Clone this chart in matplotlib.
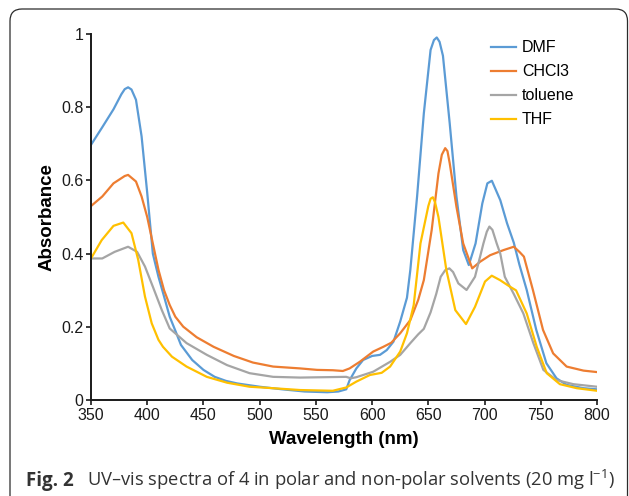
import numpy as np
import matplotlib
matplotlib.use("Agg")
import matplotlib.pyplot as plt
from matplotlib.patches import FancyBboxPatch

# spectra (wavelength in nm, absorbance)
dmf_wl = [350, 360, 370, 377, 380, 383, 386, 390, 395, 400, 405, 410, 415, 420, 425, 430, 440, 450, 460,
          470, 480, 500, 520, 540, 560, 570, 577, 580, 586, 592, 600, 607, 613, 619, 625, 631, 634, 640,
          646, 652, 655, 657.5, 660, 663, 669, 675, 681, 686, 692, 698, 702.5, 706.5, 714, 720, 726, 731,
          737.5, 746, 755, 764, 773, 788, 800]
dmf_abs = [0.697, 0.745, 0.794, 0.835, 0.849, 0.854, 0.848, 0.82, 0.72, 0.566, 0.40, 0.337, 0.283, 0.228,
           0.19, 0.151, 0.11, 0.083, 0.064, 0.053, 0.046, 0.037, 0.030, 0.024, 0.022, 0.024, 0.030, 0.055,
           0.087, 0.11, 0.121, 0.124, 0.137, 0.16, 0.215, 0.28, 0.356, 0.556, 0.783, 0.956, 0.983, 0.990,
           0.978, 0.94, 0.756, 0.556, 0.41, 0.369, 0.428, 0.537, 0.592, 0.599, 0.546, 0.483, 0.43, 0.37,
           0.301, 0.192, 0.101, 0.060, 0.042, 0.033, 0.030]

chcl3_wl = [350, 360, 370, 380, 383, 390, 395, 400, 405, 410, 415, 420, 425, 432, 444, 459, 477, 494, 512,
            536, 551, 565, 574, 580, 589, 601, 610, 617, 625, 634, 641, 646, 653, 659, 662, 665, 667, 669,
            675, 681, 689, 696, 705, 717, 726, 731, 735, 743, 752, 761, 773, 788, 800]
chcl3_abs = [0.53, 0.556, 0.592, 0.612, 0.615, 0.597, 0.556, 0.50, 0.428, 0.356, 0.30, 0.26, 0.228, 0.201,
             0.172, 0.146, 0.121, 0.103, 0.092, 0.087, 0.083, 0.082, 0.080, 0.087, 0.105, 0.133, 0.146,
             0.157, 0.183, 0.219, 0.274, 0.328, 0.465, 0.619, 0.67, 0.688, 0.68, 0.647, 0.528, 0.428, 0.36,
             0.378, 0.396, 0.41, 0.419, 0.405, 0.392, 0.301, 0.192, 0.128, 0.092, 0.081, 0.077]

tol_wl = [350, 360, 371, 383, 391, 398, 405, 413, 420, 435, 453, 471, 491, 512, 536, 577, 581, 586, 601,
          616, 625, 634, 641, 646, 652, 657, 661, 665, 668.7, 672, 676.7, 684, 691.5, 699, 702, 704.3,
          707, 710.8, 714, 718, 726, 734.5, 743.4, 752.3, 764, 779, 800]
tol_abs = [0.387, 0.387, 0.405, 0.419, 0.405, 0.365, 0.31, 0.246, 0.196, 0.156, 0.124, 0.096, 0.074,
           0.064, 0.062, 0.064, 0.060, 0.063, 0.078, 0.105, 0.124, 0.156, 0.18, 0.195, 0.24, 0.29, 0.337,
           0.355, 0.36, 0.35, 0.319, 0.301, 0.337, 0.428, 0.46, 0.474, 0.465, 0.428, 0.40, 0.337, 0.29,
           0.237, 0.156, 0.083, 0.055, 0.044, 0.037]

thf_wl = [350, 359.5, 370, 378.7, 386, 392, 398, 404, 410, 414, 422, 435, 453, 471, 491, 512, 536, 565,
          577, 586, 598, 608.5, 616, 625, 631, 637, 643, 650, 652, 654, 656, 659, 666, 674, 683.5, 691.5,
          700.4, 706.4, 713.7, 722.6, 728, 737.5, 746.4, 755.3, 767, 782, 800]
thf_abs = [0.387, 0.437, 0.476, 0.485, 0.456, 0.383, 0.283, 0.21, 0.165, 0.146, 0.119, 0.092, 0.064,
           0.048, 0.037, 0.033, 0.028, 0.026, 0.035, 0.051, 0.069, 0.075, 0.092, 0.133, 0.183, 0.26, 0.428,
           0.53, 0.55, 0.554, 0.54, 0.50, 0.356, 0.246, 0.208, 0.255, 0.324, 0.34, 0.328, 0.31, 0.30, 0.237,
           0.146, 0.074, 0.044, 0.033, 0.026]

labels = ["DMF", "CHCl3", "toluene", "THF"]
colors = ["#5B9BD5", "#ED7D31", "#A5A5A5", "#FFC000"]
x_ticks = [350, 400, 450, 500, 550, 600, 650, 700, 750, 800]
y_ticks = [0, 0.2, 0.4, 0.6, 0.8, 1]
y_ticklabels = ["0", "0.2", "0.4", "0.6", "0.8", "1"]

plt.rcParams['font.family'] = ['Liberation Sans', 'DejaVu Sans']
plt.rcParams['mathtext.default'] = 'regular'

W, H = 629, 496
fig = plt.figure(figsize=(W / 100, H / 100), dpi=100)

# rounded frame around the whole figure, in pixel units
bg = fig.add_axes([0, 0, 1, 1])
bg.set_xlim(0, W)
bg.set_ylim(H, 0)
bg.axis('off')
bg.add_patch(FancyBboxPatch((10, 9), 617.5, 520, boxstyle="round,pad=0,rounding_size=12",
                            facecolor='white', edgecolor='#2b2b2b', linewidth=0.9))

ax = fig.add_axes([91 / W, 1 - 400.3 / H, (597 - 91) / W, (400.3 - 33.8) / H])
ax.patch.set_alpha(0)

series = [(dmf_wl, dmf_abs), (chcl3_wl, chcl3_abs), (tol_wl, tol_abs), (thf_wl, thf_abs)]
for (wl, ab), lab, c in zip(series, labels, colors):
    ax.plot(wl, ab, color=c, lw=1.6, label=lab, solid_joinstyle='round')

ax.set_xlim(350, 800)
ax.set_ylim(0, 1)
ax.set_xticks(x_ticks)
ax.set_yticks(y_ticks)
ax.set_yticklabels(y_ticklabels)
for s in ['top', 'right']:
    ax.spines[s].set_visible(False)
for s in ['left', 'bottom']:
    ax.spines[s].set_linewidth(1.4)
    ax.spines[s].set_color('#1a1a1a')
ax.tick_params(direction='out', length=3.5, width=1.2, labelsize=11.5, colors='#1a1a1a', pad=2)

ax.set_xlabel("Wavelength (nm)", fontsize=13.5, fontweight='bold', labelpad=6)
ax.set_ylabel("Absorbance", fontsize=13.5, fontweight='bold', labelpad=4)

ax.legend(loc='upper left', bbox_to_anchor=(0.79, 0.982), frameon=False, fontsize=11.5,
          handlelength=1.6, handletextpad=0.35, labelspacing=0.56, borderpad=0, borderaxespad=0)

# caption
fig.text(26.5 / W, 1 - 486 / H, "Fig. 2", fontsize=13.5, fontweight='bold', family='Open Sans',
         color='#333333', va='baseline')
fig.text(87.5 / W, 1 - 486 / H, "UV\u2013vis spectra of 4 in polar and non-polar solvents (20 mg l$^{-1}$)",
         fontsize=13.2, family='Open Sans', color='#333333', va='baseline')

fig.savefig("out.png", dpi=100)
